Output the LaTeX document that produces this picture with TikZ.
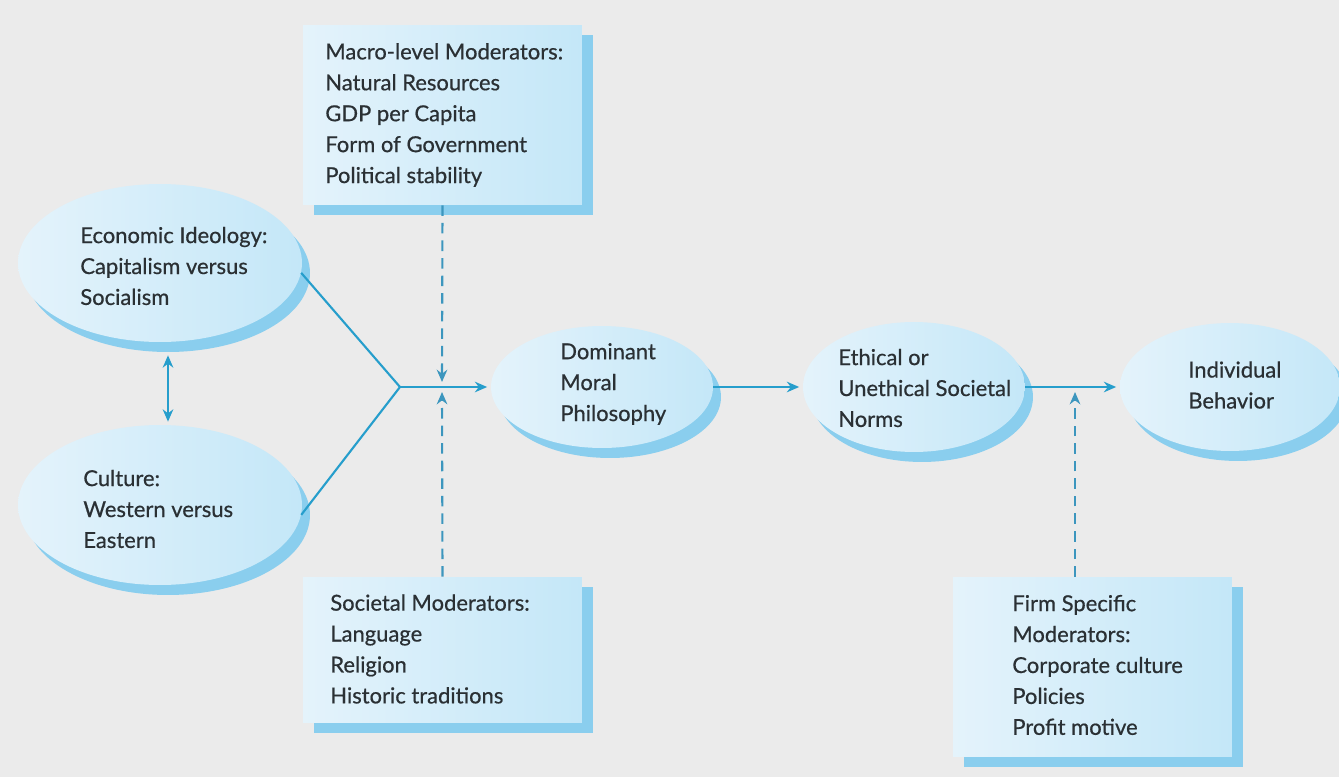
\documentclass[tikz,border=0pt]{standalone}
\usepackage{fontspec}
\setmainfont[FakeBold=0.6]{Lato}
\usetikzlibrary{shapes.geometric}
\usetikzlibrary{shadows}
\usetikzlibrary{positioning}
\usetikzlibrary{arrows.meta}

\definecolor{bggray}{RGB}{235,235,235}
\definecolor{lineblue}{RGB}{38,158,204}
\definecolor{dashblue}{RGB}{60,150,190}
\definecolor{shadeblue}{RGB}{138,206,238}
\definecolor{lightfill}{RGB}{228,243,251}
\definecolor{darkfill}{RGB}{196,231,248}
\definecolor{inkgray}{RGB}{42,48,52}

\tikzset{
	oval/.style={ellipse, inner sep=0pt, left color=lightfill, right color=darkfill,
		drop shadow={shadow xshift=0.16cm, shadow yshift=-0.2cm, fill=shadeblue, opacity=1}},
	modbox/.style={rectangle, inner sep=0pt, minimum width=5.58cm, left color=lightfill, right color=darkfill,
		drop shadow={shadow xshift=0.22cm, shadow yshift=-0.2cm, fill=shadeblue, opacity=1}},
	txt/.style={align=left, anchor=west, inner sep=0pt, text=inkgray, font=\fontsize{12.5}{17.6}\selectfont},
	link/.style={draw=lineblue, line width=1.2pt},
	modlink/.style={link, draw=dashblue, dash pattern=on 6pt off 4pt, ->}
}

\begin{document}
\begin{tikzpicture}[x=0.02cm, y=-0.02cm, >={Stealth[length=7pt,width=6pt]}]
	\fill[bggray] (0,0) rectangle (1339,777);
	\useasboundingbox (0,0) rectangle (1339,777);

	% moderator boxes
	\node[modbox, minimum height=3.6cm] (macro) at (442.5,115) {};
	\node[txt] (macrotext) at (325,115) {Macro-level Moderators:\\Natural Resources\\GDP per Capita\\Form of Government\\Political stability};
	\node[modbox, minimum height=2.92cm] (soc) at (442.5,650) {};
	\node[txt] (soctext) at (330,649) {Societal Moderators:\\Language\\Religion\\Historic traditions};
	\node[modbox, minimum height=3.6cm] (firm) at (1092.5,667) {};
	\node[txt] (firmtext) at (1012,665) {Firm Specific\\Moderators:\\Corporate culture\\Policies\\Profit motive};

	% ovals
	\node[oval, minimum width=5.68cm, minimum height=3.16cm] (eco) at (160,263) {};
	\node[txt] (ecotext) at (80,266) {Economic Ideology:\\Capitalism versus\\Socialism};
	\node[oval, minimum width=5.68cm, minimum height=3.2cm] (cult) at (160,505) {};
	\node[txt] (culttext) at (83,509) {Culture:\\Western versus\\Eastern};
	\node[oval, minimum width=4.44cm, minimum height=2.44cm] (dom) at (602,387) {};
	\node[txt] (domtext) at (560,384) {Dominant\\Moral\\Philosophy};
	\node[oval, minimum width=4.44cm, minimum height=2.6cm] (eth) at (914,387) {};
	\node[txt] (ethtext) at (838,388) {Ethical or\\Unethical Societal\\Norms};
	\node[oval, minimum width=4.4cm, minimum height=2.56cm] (ind) at (1230,387) {};
	\node[txt] (indtext) at (1188,385) {Individual\\Behavior};

	% connectors
	\coordinate (join) at (400,387);
	\draw[link] (eco.-4) -- (join) -- (cult.-4);
	\draw[link,<->] ([xshift=0.16cm,yshift=-0.26cm]eco.south) -- ([xshift=0.16cm,yshift=0.06cm]cult.north);
	\draw[link,->,shorten >=2pt] (join) -- (dom.west);
	\draw[link,->,shorten >=2pt] (dom.east) -- (eth.west);
	\draw[link,->,shorten >=2pt] (eth.east) -- (ind.west);

	% dashed moderator arrows
	\coordinate (mtip) at (442,382);
	\coordinate (stip) at (442,392);
	\coordinate (ftip) at (1075,392);
	\draw[modlink] (macro.south) -- (mtip);
	\draw[modlink] (soc.north) -- (stip);
	\draw[modlink] (firm.north -| ftip) -- (ftip);
\end{tikzpicture}
\end{document}
